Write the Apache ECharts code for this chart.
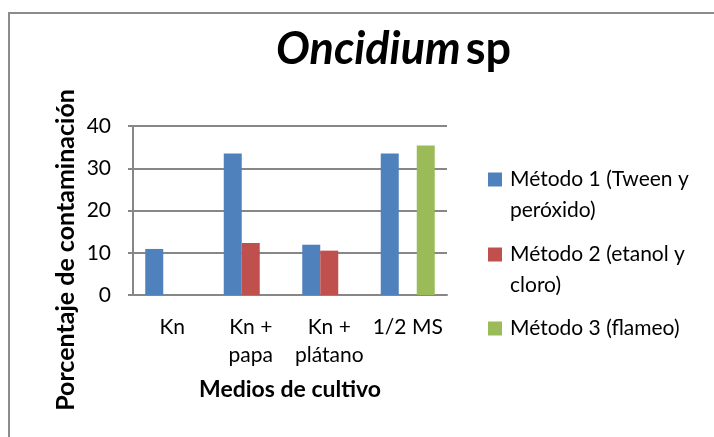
<!DOCTYPE html>
<html>
<head>
<meta charset="utf-8">
<style>
  html, body { margin: 0; padding: 0; background: #fff; }
  #chart { width: 714px; height: 437px; }
</style>
<script src="https://cdn.jsdelivr.net/npm/echarts@6/dist/echarts.min.js"></script>
</head>
<body>
<div id="chart"></div>
<script>
const categories = ['Kn', 'Kn +\npapa', 'Kn +\nplátano', '1/2 MS']
const metodo1 = [10.9, 33.5, 11.9, 33.5]
const metodo2 = [0, 12.3, 10.5, 0]
const metodo3 = [0, 0, 0, 35.4]
const seriesNames = ['Método 1 (Tween y peróxido)', 'Método 2 (etanol y cloro)', 'Método 3 (flameo)']
const legendLines = [
  ['Método 1 (Tween y', 'peróxido)'],
  ['Método 2 (etanol y', 'cloro)'],
  ['Método 3 (flameo)']
]
const colors = ['#4F81BD', '#C0504D', '#9BBB59']

const font = 'Lato, "Open Sans", sans-serif'
const gridColor = '#878787'

const chart = echarts.init(document.getElementById('chart'))

// one legend per entry so the wrapped entries can sit like the original
const legendTops = [133, 208, 313]
const legends = seriesNames.map((name, i) => ({
  data: [name],
  left: 488,
  top: legendTops[i],
  padding: 0,
  itemWidth: 14,
  itemHeight: 14,
  icon: 'rect',
  selectedMode: false,
  textStyle: {
    fontFamily: font,
    fontSize: 21,
    color: '#000',
    lineHeight: 31,
    padding: [0, 0, 0, 3]
  },
  // blank first line keeps the icon level with the first text line
  formatter: () => (legendLines[i].length > 1 ? '\n' : '') + legendLines[i].join('\n')
}))

const seriesData = [metodo1, metodo2, metodo3]

chart.setOption({
  animation: false,
  title: {
    text: '{i|Oncidium} {b|sp}',
    left: 276,
    top: 27,
    padding: 0,
    textStyle: {
      rich: {
        i: { fontFamily: font, fontSize: 45, fontWeight: 'bold', fontStyle: 'italic', color: '#000' },
        b: { fontFamily: font, fontSize: 45, fontWeight: 'bold', color: '#000' }
      }
    }
  },
  legend: legends,
  grid: {
    left: 133,
    right: 267,
    top: 126,
    bottom: 142
  },
  xAxis: {
    type: 'category',
    data: categories,
    name: 'Medios de cultivo',
    nameLocation: 'middle',
    nameGap: 83,
    nameTextStyle: { fontFamily: font, fontSize: 23, fontWeight: 'bold', color: '#000' },
    axisLine: { lineStyle: { color: gridColor, width: 2 } },
    axisTick: { show: false },
    axisLabel: {
      interval: 0,
      margin: 18,
      fontFamily: font,
      fontSize: 21,
      lineHeight: 28,
      color: '#000'
    }
  },
  yAxis: {
    type: 'value',
    min: 0,
    max: 40,
    interval: 10,
    axisLine: { show: true, lineStyle: { color: gridColor, width: 2 } },
    axisTick: { show: true, length: 5, lineStyle: { color: gridColor, width: 2 } },
    axisLabel: { margin: 22, fontFamily: font, fontSize: 21, color: '#000' },
    splitLine: { lineStyle: { color: gridColor, width: 2 } }
  },
  series: seriesNames.map((name, i) => ({
    name,
    type: 'bar',
    data: seriesData[i],
    barWidth: 18,
    barGap: '0%',
    itemStyle: { color: colors[i] }
  })),
  graphic: [
    {
      type: 'rect',
      shape: { x: 9, y: 13, width: 720, height: 440 },
      style: { fill: 'none', stroke: '#8c8c8c', lineWidth: 2 },
      silent: true
    },
    {
      type: 'text',
      x: 66,
      y: 250,
      rotation: Math.PI / 2,
      style: {
        text: 'Porcentaje de contaminación',
        fontFamily: font,
        fontSize: 25,
        fontWeight: 'bold',
        fill: '#000',
        align: 'center',
        verticalAlign: 'middle'
      },
      silent: true
    }
  ]
})
</script>
</body>
</html>
